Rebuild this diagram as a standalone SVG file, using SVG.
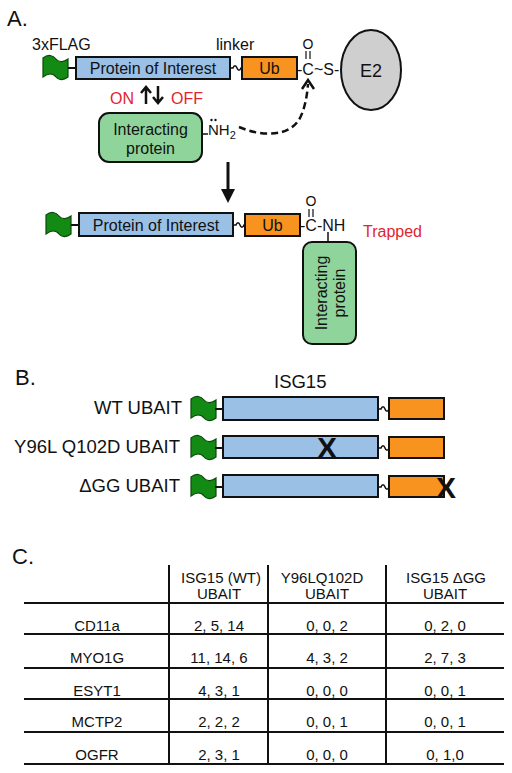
<svg xmlns="http://www.w3.org/2000/svg" width="512" height="773" viewBox="0 0 512 773">
<style>
text{font-family:"Liberation Sans",Arial,sans-serif;fill:#111}
.lbl{font-size:22px}
.t16{font-size:16px}
.t15{font-size:15px}
.t14{font-size:14px}
.t18{font-size:18.5px}
.mid{text-anchor:middle}
.end{text-anchor:end}
.red{fill:#e3242b}
.poi{fill:#9ac0e5;stroke:#111;stroke-width:2}
.ub{fill:#f7931e;stroke:#111;stroke-width:2}
.ip{fill:#8fd49b;stroke:#111;stroke-width:2}
.flag{fill:#138a13;stroke:#0a4a0a;stroke-width:1.2}
.ln{stroke:#111;stroke-width:2;fill:none}
.tbl{stroke:#111;stroke-width:2}
.x{font-size:30px;font-weight:bold}
</style>
<defs>
<path id="flag" d="M0,2 C5,-2 10,-1 13,3 C16,7 21,6 25,3 L25,21 C21,24 16,25 13,21 C10,17 5,17 0,21 Z"/>
<path id="sq" d="M0,0 h3 c1,-3 3,-3 4,0 s3,3 4,0 h1"/>
</defs>

<!-- Section A -->
<text class="lbl" x="7" y="26">A.</text>
<text class="t16" x="32" y="50">3xFLAG</text>
<text class="t16" x="216" y="50">linker</text>

<g id="construct1">
<use href="#flag" class="flag" x="43" y="56"/>
<line class="ln" x1="68" y1="68" x2="76" y2="68"/>
<rect class="poi" x="76" y="57" width="154" height="22"/>
<text class="t16 mid" x="153" y="74">Protein of Interest</text>
<use href="#sq" class="ln" x="230" y="68" style="stroke-width:1.5"/>
<rect class="ub" x="242" y="57" width="55" height="22"/>
<text class="t16 mid" x="269.5" y="74">Ub</text>
<text class="t16" x="297" y="75">-C~S-</text>
<text class="t14 mid" x="308" y="49">O</text>
<line class="ln" x1="306" y1="51" x2="306" y2="59" style="stroke-width:1.2"/>
<line class="ln" x1="310" y1="51" x2="310" y2="59" style="stroke-width:1.2"/>
</g>

<g id="E2">
<ellipse cx="371" cy="70" rx="30" ry="40" fill="#cfcfcf" stroke="#111" stroke-width="2"/>
<text class="mid" x="371" y="77" style="font-size:18px">E2</text>
</g>

<g id="onoff">
<text class="t16 red" x="110" y="104">ON</text>
<text class="t16 red" x="171" y="104">OFF</text>
</g>

<g id="interacting1">
<rect class="ip" x="99" y="113" width="103" height="49" rx="10"/>
<text class="t16 mid" x="150.5" y="135">Interacting</text>
<text class="t16 mid" x="150.5" y="154">protein</text>
<line class="ln" x1="202" y1="134" x2="208" y2="134" style="stroke-width:1.5"/>
<text class="t15" x="208" y="135">NH<tspan style="font-size:11px" dy="4">2</tspan></text>
<circle cx="211.5" cy="120" r="1.2" fill="#111"/>
<circle cx="215.5" cy="120" r="1.2" fill="#111"/>
</g>

<g id="construct2">
<use href="#flag" class="flag" x="46" y="213"/>
<line class="ln" x1="71" y1="225" x2="79" y2="225"/>
<rect class="poi" x="79" y="213" width="154" height="23"/>
<text class="t16 mid" x="156" y="231">Protein of Interest</text>
<use href="#sq" class="ln" x="233" y="225" style="stroke-width:1.5"/>
<rect class="ub" x="245" y="214" width="55" height="22"/>
<text class="t16 mid" x="272.5" y="231">Ub</text>
<text class="t16" x="300" y="231">-C-NH</text>
<text class="t14 mid" x="311" y="206">O</text>
<line class="ln" x1="309" y1="209" x2="309" y2="217" style="stroke-width:1.2"/>
<line class="ln" x1="313" y1="209" x2="313" y2="217" style="stroke-width:1.2"/>
<line class="ln" x1="328" y1="232" x2="328" y2="242" style="stroke-width:1.5"/>
<text class="t16 red" x="363" y="237">Trapped</text>
</g>

<g id="interacting2">
<rect class="ip" x="303" y="242" width="53" height="102" rx="9"/>
<text class="t16 mid" transform="translate(327,293) rotate(-90)">Interacting</text>
<text class="t16 mid" transform="translate(345,293) rotate(-90)">protein</text>
</g>

<g id="connectors">
<path class="ln" d="M146,104 V88 M141,93 L146,87 L151,93" style="stroke-width:2.5"/>
<path class="ln" d="M158,86 V102 M153,97 L158,103 L163,97" style="stroke-width:2.5"/>
<path class="ln" d="M239,127 C262,137 290,137 300,118 C305,108 307,96 308,84" style="stroke-width:2.5;stroke-dasharray:7,4"/>
<path class="ln" d="M302,89 L308,80 L314,89" style="stroke-width:2.5"/>
<line class="ln" x1="228" y1="162" x2="228" y2="191" style="stroke-width:3"/>
<polygon points="221,189 235,189 228,203" fill="#111"/>
</g>

<!-- Section B -->
<text class="lbl" x="15" y="385">B.</text>
<text class="t18" x="274" y="388">ISG15</text>

<g id="wt">
<text class="t18 end" x="182" y="414">WT UBAIT</text>
<use href="#flag" class="flag" x="191" y="397"/>
<line class="ln" x1="215" y1="409" x2="223" y2="409"/>
<rect class="poi" x="223" y="397" width="155" height="23"/>
<use href="#sq" class="ln" x="378" y="409" style="stroke-width:1.5"/>
<rect class="ub" x="389" y="398" width="55" height="21"/>
</g>

<g id="y96l">
<text class="t18 end" x="180" y="453">Y96L Q102D UBAIT</text>
<use href="#flag" class="flag" x="191" y="436"/>
<line class="ln" x1="215" y1="448" x2="223" y2="448"/>
<rect class="poi" x="223" y="436" width="155" height="22"/>
<use href="#sq" class="ln" x="378" y="448" style="stroke-width:1.5"/>
<rect class="ub" x="389" y="437" width="55" height="21"/>
<text class="x mid" x="327" y="458">X</text>
</g>

<g id="dgg">
<text class="t18 end" x="180" y="492">ΔGG UBAIT</text>
<use href="#flag" class="flag" x="191" y="475"/>
<line class="ln" x1="215" y1="487" x2="223" y2="487"/>
<rect class="poi" x="223" y="475" width="155" height="22"/>
<use href="#sq" class="ln" x="378" y="487" style="stroke-width:1.5"/>
<rect class="ub" x="389" y="476" width="55" height="21"/>
<text class="x mid" x="446" y="498">X</text>
</g>

<!-- Section C -->
<text class="lbl" x="12" y="564">C.</text>
<g id="table">
<line class="tbl" x1="169" y1="565" x2="169" y2="764"/>
<line class="tbl" x1="268" y1="565" x2="268" y2="764"/>
<line class="tbl" x1="386" y1="565" x2="386" y2="764"/>
<line class="tbl" x1="24" y1="603" x2="504" y2="603"/>
<line class="tbl" x1="24" y1="634" x2="504" y2="634"/>
<line class="tbl" x1="24" y1="668" x2="504" y2="668"/>
<line class="tbl" x1="24" y1="699" x2="504" y2="699"/>
<line class="tbl" x1="24" y1="732" x2="504" y2="732"/>
<line class="tbl" x1="24" y1="764" x2="504" y2="764"/>

<text class="t15 mid" x="221" y="583">ISG15 (WT)</text>
<text class="t15 mid" x="219" y="599">UBAIT</text>
<text class="t15 mid" x="322" y="583">Y96LQ102D</text>
<text class="t15 mid" x="327" y="599">UBAIT</text>
<text class="t15 mid" x="446" y="583">ISG15 ΔGG</text>
<text class="t15 mid" x="445" y="599">UBAIT</text>

<text class="t15 mid" x="97" y="631">CD11a</text>
<text class="t15 mid" x="219" y="631">2, 5, 14</text>
<text class="t15 mid" x="327" y="631">0, 0, 2</text>
<text class="t15 mid" x="445" y="631">0, 2, 0</text>

<text class="t15 mid" x="97" y="663">MYO1G</text>
<text class="t15 mid" x="219" y="663">11, 14, 6</text>
<text class="t15 mid" x="327" y="663">4, 3, 2</text>
<text class="t15 mid" x="445" y="663">2, 7, 3</text>

<text class="t15 mid" x="97" y="696">ESYT1</text>
<text class="t15 mid" x="219" y="696">4, 3, 1</text>
<text class="t15 mid" x="327" y="696">0, 0, 0</text>
<text class="t15 mid" x="445" y="696">0, 0, 1</text>

<text class="t15 mid" x="97" y="727">MCTP2</text>
<text class="t15 mid" x="219" y="727">2, 2, 2</text>
<text class="t15 mid" x="327" y="727">0, 0, 1</text>
<text class="t15 mid" x="445" y="727">0, 0, 1</text>

<text class="t15 mid" x="97" y="760">OGFR</text>
<text class="t15 mid" x="219" y="760">2, 3, 1</text>
<text class="t15 mid" x="327" y="760">0, 0, 0</text>
<text class="t15 mid" x="445" y="760">0, 1,0</text>
</g>
</svg>
